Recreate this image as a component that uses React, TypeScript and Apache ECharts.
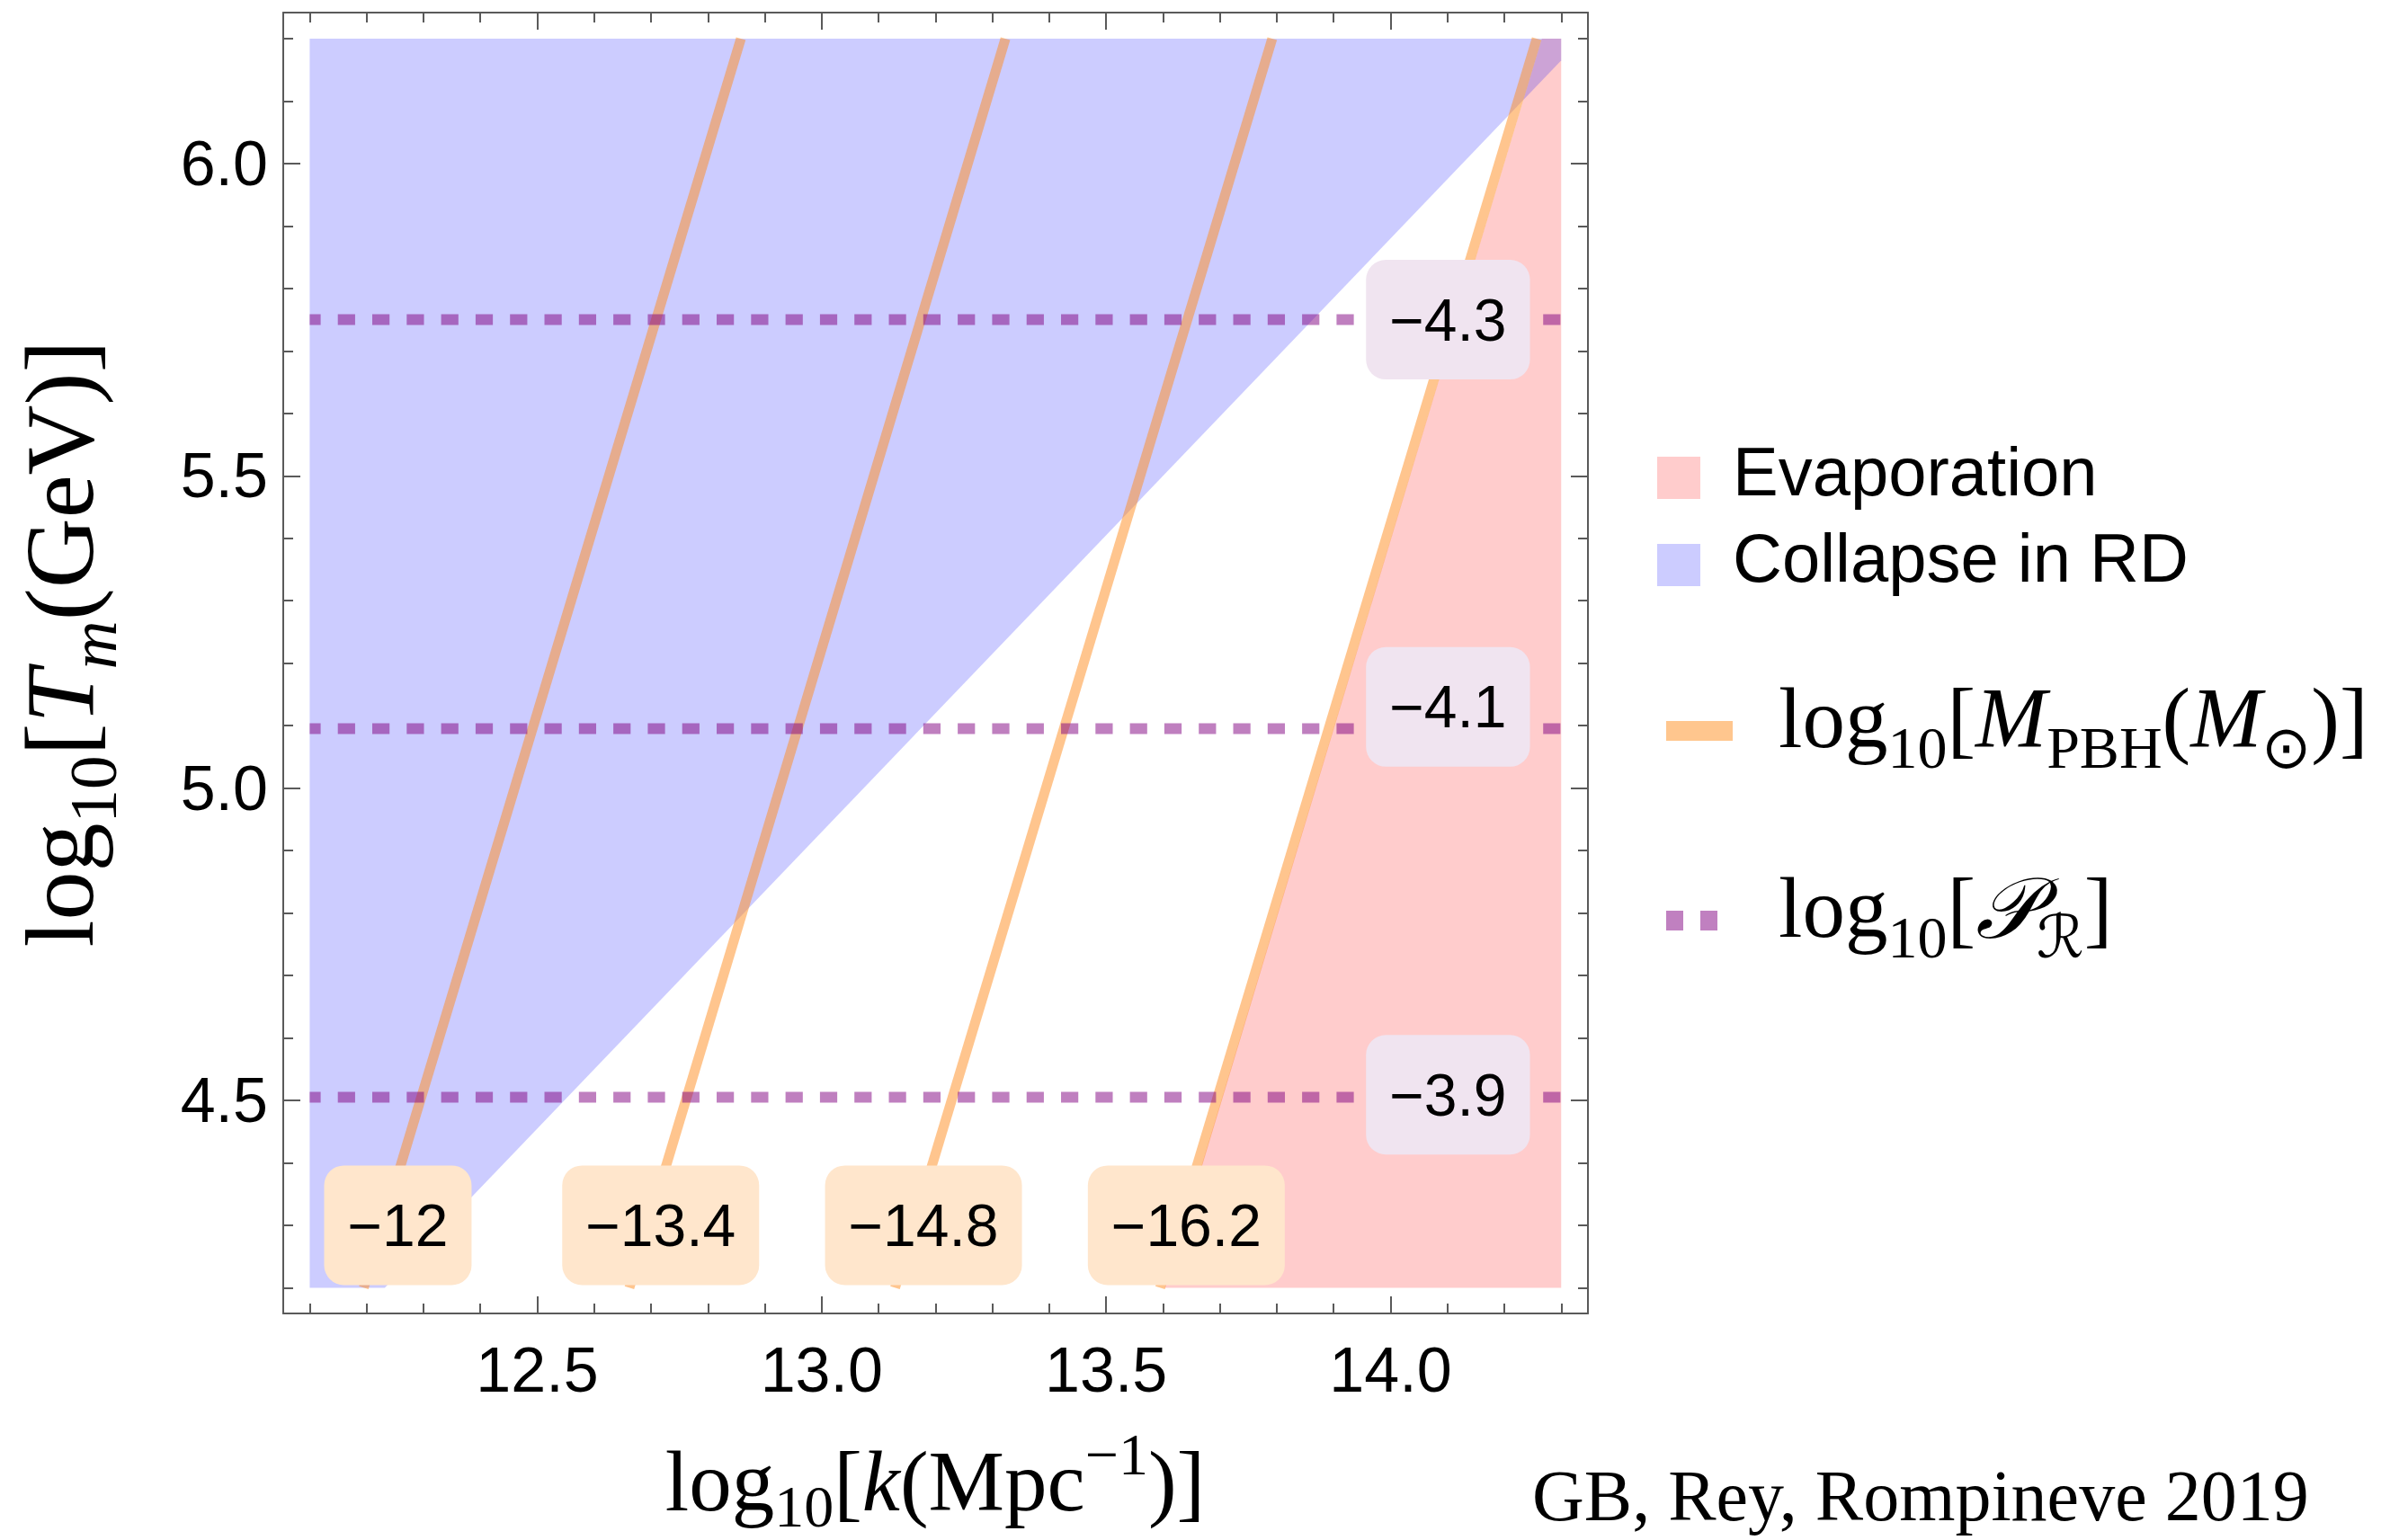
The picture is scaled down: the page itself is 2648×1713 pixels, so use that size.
import React, { useEffect, useRef } from "react";
import * as echarts from "echarts";

// ---------- axis ranges (log10 k, log10 Tm) ----------
const X_MIN = 12.0535;
const X_MAX = 14.347;
const Y_MIN = 4.1588;
const Y_MAX = 6.2417;

const xMajorTicks = [12.5, 13.0, 13.5, 14.0];
const xMinorTicks = [12.1, 12.2, 12.3, 12.4, 12.6, 12.7, 12.8, 12.9, 13.1, 13.2, 13.3, 13.4, 13.6, 13.7, 13.8, 13.9, 14.1, 14.2, 14.3];
const yMajorTicks = [4.5, 5.0, 5.5, 6.0];
const yMinorTicks = [4.2, 4.3, 4.4, 4.6, 4.7, 4.8, 4.9, 5.1, 5.2, 5.3, 5.4, 5.6, 5.7, 5.8, 5.9, 6.1, 6.2];

// ---------- shaded regions (polygon vertices) ----------
const evaporationRegion = [[13.603, 4.2], [14.266, 6.2], [14.3, 6.2], [14.3, 4.2]];
const collapseRegion = [[12.1, 4.2], [12.232, 4.2], [14.3, 6.165], [14.3, 6.2], [12.1, 6.2]];

// ---------- log10 M_PBH contours ----------
const massLabels = ["−12", "−13.4", "−14.8", "−16.2"];
const massLineBottomK = [12.195, 12.662, 13.129, 13.595];
const massLineTopK = [12.858, 13.323, 13.792, 14.257];
const massLineBottomY = 4.2;
const massLineTopY = 6.2;
const massLabelK = [12.255, 12.717, 13.179, 13.641];
const massLabelY = 4.3;

// ---------- log10 P_R contours ----------
const prLabels = ["−4.3", "−4.1", "−3.9"];
const prLineY = [5.75, 5.095, 4.505];
const prLineK = [12.1, 14.3];
const prLabelK = 14.101;
const prLabelY = [5.75, 5.13, 4.509];

const AXIS_COLOR = "#5a5a5a";
const SANS = '"Liberation Sans", Arial, sans-serif';
const SERIF = '"Liberation Serif", "Times New Roman", serif';
const SCRIPT = '"DejaVu Serif", "DejaVu Sans", serif';

function xAxisDef(position: string, ticks: number[], len: number, showLine: boolean, labels: boolean) {
  return {
    type: "value",
    position,
    min: X_MIN,
    max: X_MAX,
    splitLine: { show: false },
    axisLine: { show: showLine, onZero: false, lineStyle: { color: AXIS_COLOR, width: 2 } },
    axisTick: { show: true, inside: true, length: len, customValues: ticks, lineStyle: { color: AXIS_COLOR, width: 2 } },
    axisLabel: {
      show: labels,
      customValues: ticks,
      formatter: (v: number) => v.toFixed(1),
      fontSize: 70,
      fontFamily: SANS,
      color: "#000",
      margin: 28,
    },
  };
}

function yAxisDef(position: string, ticks: number[], len: number, showLine: boolean, labels: boolean) {
  return {
    type: "value",
    position,
    min: Y_MIN,
    max: Y_MAX,
    splitLine: { show: false },
    axisLine: { show: showLine, onZero: false, lineStyle: { color: AXIS_COLOR, width: 2 } },
    axisTick: { show: true, inside: true, length: len, customValues: ticks, lineStyle: { color: AXIS_COLOR, width: 2 } },
    axisLabel: {
      show: labels,
      customValues: ticks,
      formatter: (v: number) => v.toFixed(1),
      fontSize: 70,
      fontFamily: SANS,
      color: "#000",
      margin: 17,
    },
  };
}

function regionSeries(points: number[][], fill: string, z: number) {
  return {
    type: "custom",
    xAxisIndex: 0,
    yAxisIndex: 0,
    silent: true,
    z,
    data: points,
    renderItem: (params: any, api: any) => {
      if (params.dataIndex !== 0) return null;
      const pts = points.map((p) => api.coord(p));
      return { type: "polygon", shape: { points: pts }, style: { fill } };
    },
  };
}

function labelSeries(ks: number[], ys: number[], texts: string[], bg: string) {
  return {
    type: "custom",
    xAxisIndex: 0,
    yAxisIndex: 0,
    silent: true,
    z: 10,
    data: ks.map((k, i) => [k, ys[i]]),
    renderItem: (params: any, api: any) => {
      const i = params.dataIndex;
      const c = api.coord([ks[i], ys[i]]);
      return {
        type: "text",
        x: c[0],
        y: c[1],
        z2: 10,
        style: {
          text: texts[i],
          fill: "#000",
          fontSize: 66,
          fontFamily: SANS,
          align: "center",
          verticalAlign: "middle",
          lineHeight: 67,
          backgroundColor: bg,
          padding: [33, 26, 33, 26],
          borderRadius: 22,
        },
      };
    },
  };
}

// rich-text styles for the TeX-like labels; lineHeight fixed so that shifted
// sub/superscripts do not enlarge the text box
const mathRich = (main: number, sub: number, shift: number, sup?: number) => {
  const lh = main + 6;
  return {
    n: { fontSize: main, fontFamily: SERIF, fill: "#000", lineHeight: lh },
    i: { fontSize: main, fontFamily: SERIF, fontStyle: "italic", fill: "#000", lineHeight: lh },
    c: { fontSize: main, fontFamily: SCRIPT, fontStyle: "italic", fill: "#000", lineHeight: lh },
    s: { fontSize: sub, fontFamily: SERIF, fill: "#000", padding: [shift, 0, 0, 0], lineHeight: lh },
    si: { fontSize: sub, fontFamily: SERIF, fontStyle: "italic", fill: "#000", padding: [shift, 0, 0, 0], lineHeight: lh },
    sc: { fontSize: sub, fontFamily: SCRIPT, fontStyle: "italic", fill: "#000", padding: [shift, 0, 0, 0], lineHeight: lh },
    p: { fontSize: sub, fontFamily: SERIF, fill: "#000", padding: [0, 0, sup ?? 60, 0], lineHeight: lh },
  };
};

export default function App() {
  const ref = useRef<HTMLDivElement>(null);

  useEffect(() => {
    const chart = echarts.init(ref.current as HTMLDivElement, null, { renderer: "svg" });

    const series: any[] = [
      regionSeries(evaporationRegion, "rgba(255,0,0,0.2)", 1),
      regionSeries(collapseRegion, "rgba(0,0,255,0.2)", 1),
      ...massLineBottomK.map((kb, i) => ({
        type: "line",
        xAxisIndex: 0,
        yAxisIndex: 0,
        silent: true,
        z: 3,
        symbol: "none",
        showSymbol: false,
        data: [
          [kb, massLineBottomY],
          [massLineTopK[i], massLineTopY],
        ],
        lineStyle: { color: "rgba(255,140,30,0.5)", width: 11, cap: "butt" },
      })),
      ...prLineY.map((y) => ({
        type: "line",
        xAxisIndex: 0,
        yAxisIndex: 0,
        silent: true,
        z: 4,
        symbol: "none",
        showSymbol: false,
        data: [
          [prLineK[0], y],
          [prLineK[1], y],
        ],
        lineStyle: { color: "rgba(128,0,128,0.5)", width: 12, type: [19.2, 19.1], dashOffset: 6.6, cap: "butt" },
      })),
      labelSeries(massLabelK, massLabelK.map(() => massLabelY), massLabels, "#FFE6CC"),
      labelSeries(prLabelY.map(() => prLabelK), prLabelY, prLabels, "#F0E4F0"),
    ];

    const graphic: any[] = [
      // legend swatches
      { type: "rect", shape: { x: 1843, y: 508, width: 48, height: 47 }, style: { fill: "#FFCCCC" } },
      { type: "text", x: 1927, y: 524, style: { text: "Evaporation", fontSize: 76, fontFamily: SANS, fill: "#000", align: "left", verticalAlign: "middle" } },
      { type: "rect", shape: { x: 1843, y: 605, width: 48, height: 47 }, style: { fill: "#CCCCFF" } },
      { type: "text", x: 1927, y: 620, style: { text: "Collapse in RD", fontSize: 76, fontFamily: SANS, fill: "#000", align: "left", verticalAlign: "middle" } },
      { type: "rect", shape: { x: 1853, y: 802, width: 74, height: 22 }, style: { fill: "#FFC68E" } },
      {
        type: "text",
        x: 1978,
        y: 799,
        style: {
          text: "{n|log}{s|10}{n|[}{i|M}{s|PBH}{n|(}{i|M}{s|⊙}{n|)]}",
          align: "left",
          verticalAlign: "middle",
          rich: mathRich(95, 66, 65),
        },
      },
      { type: "rect", shape: { x: 1853, y: 1013, width: 19, height: 22 }, style: { fill: "#C080C0" } },
      { type: "rect", shape: { x: 1891, y: 1013, width: 19, height: 22 }, style: { fill: "#C080C0" } },
      {
        type: "text",
        x: 1978,
        y: 1010,
        style: {
          text: "{n|log}{s|10}{n|[}{c|𝒫}{sc|ℛ}{n|]}",
          align: "left",
          verticalAlign: "middle",
          rich: mathRich(95, 66, 65),
        },
      },
      // x-axis title
      {
        type: "text",
        x: 1040,
        y: 1648,
        style: {
          text: "{n|log}{s|10}{n|[}{i|k}{n|(Mpc}{p|−1}{n|)]}",
          align: "center",
          verticalAlign: "middle",
          rich: mathRich(95, 66, 55, 62),
        },
      },
      // y-axis title
      {
        type: "text",
        x: 66,
        y: 716,
        rotation: Math.PI / 2,
        style: {
          text: "{n|log}{s|10}{n|[}{i|T}{si|m}{n|(GeV)]}",
          align: "center",
          verticalAlign: "middle",
          rich: mathRich(108, 75, 74),
        },
      },
      // credit
      {
        type: "text",
        x: 1704,
        y: 1664,
        style: { text: "GB, Rey, Rompineve 2019", fontSize: 80, fontFamily: SERIF, fill: "#000", align: "left", verticalAlign: "middle", lineHeight: 84 },
      },
    ];

    chart.setOption({
      animation: false,
      backgroundColor: "#ffffff",
      grid: { left: 315, top: 14, width: 1451, height: 1447, containLabel: false, outerBoundsMode: "none" },
      xAxis: [
        xAxisDef("bottom", xMajorTicks, 19, true, true),
        xAxisDef("bottom", xMinorTicks, 11, false, false),
        xAxisDef("top", xMajorTicks, 19, true, false),
        xAxisDef("top", xMinorTicks, 11, false, false),
      ],
      yAxis: [
        yAxisDef("left", yMajorTicks, 19, true, true),
        yAxisDef("left", yMinorTicks, 11, false, false),
        yAxisDef("right", yMajorTicks, 19, true, false),
        yAxisDef("right", yMinorTicks, 11, false, false),
      ],
      series,
      graphic,
    });

    return () => chart.dispose();
  }, []);

  return (
    <div
      ref={ref}
      style={{ position: "fixed", left: 0, top: 0, width: 2648, height: 1713, background: "#fff" }}
    />
  );
}
